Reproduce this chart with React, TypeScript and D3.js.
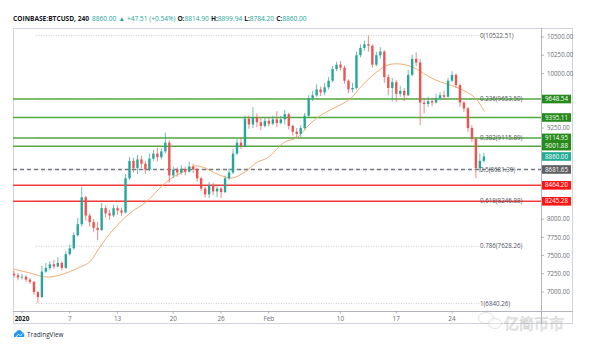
import React from 'react';
import * as d3 from 'd3';

// ---------- DATA ----------
const headerSymbol = 'COINBASE:BTCUSD, 240';
const lastPrice = 8860.0;
const changeText = '+47.51 (+0.54%)';
const ohlcLabels = ['O:', 'H:', 'L:', 'C:'];
const ohlcValues = ['8814.90', '8899.94', '8784.20', '8860.00'];

// 12h candles starting 2019-12-31 00:00 UTC; each candle opens at previous close
const candleStart = '2019-12-31T00';
const candleHours = 12;
const firstOpen = 7250;
const closes = [
  7230, 7200, 7210, 7170, 7140, 7000, 6930, 7280, 7330, 7380,
  7350, 7400, 7330, 7520, 7600, 7780, 7930, 8300, 8050, 7960,
  7880, 7850, 8150, 8080, 8050, 8150, 8120, 8090, 8560, 8800,
  8700, 8820, 8760, 8680, 8830, 8900, 8850, 8930, 9050, 8600,
  8680, 8640, 8690, 8650, 8720, 8680, 8560, 8420, 8340, 8470,
  8380, 8420, 8370, 8560, 8640, 8900, 9050, 9000, 9380, 9300,
  9400, 9330, 9280, 9350, 9310, 9370, 9320, 9370, 9440, 9280,
  9200, 9170, 9250, 9420, 9660, 9700, 9780, 9740, 9810, 9900,
  10060, 10120, 10080, 9900, 9780, 9800, 10250, 10350, 10400, 10380,
  10120, 10250, 10300, 9950, 9800, 9880, 9720, 9760, 9700, 9980,
  10200, 10150, 9600, 9580, 9620, 9600, 9660, 9700, 9680, 9900,
  9980, 9840, 9600, 9520, 9250, 9100, 8700, 8800, 8860,
];
const highs = [
  7290, 7260, 7250, 7230, 7190, 7150, 7010, 7360, 7400, 7420,
  7440, 7480, 7420, 7560, 7650, 7820, 8015, 8440, 8320, 8080,
  8000, 7960, 8220, 8190, 8130, 8200, 8190, 8160, 8620, 8850,
  8840, 8880, 8870, 8800, 8900, 8950, 8980, 8970, 9190, 9080,
  8720, 8710, 8740, 8720, 8790, 8760, 8700, 8580, 8450, 8510,
  8500, 8460, 8440, 8600, 8700, 8960, 9100, 9120, 9420, 9420,
  9540, 9450, 9390, 9400, 9390, 9420, 9480, 9420, 9500, 9460,
  9300, 9250, 9290, 9460, 9700, 9760, 9850, 9820, 9870, 9950,
  10100, 10160, 10170, 10110, 9920, 9870, 10300, 10400, 10450, 10520,
  10400, 10300, 10360, 10320, 9990, 9940, 9910, 9830, 9800, 10050,
  10260, 10290, 10200, 9660, 9680, 9670, 9720, 9740, 9760, 9940,
  10030, 10000, 9860, 9620, 9540, 9290, 9120, 8900, 8910,
];
const lows = [
  7200, 7160, 7170, 7140, 7110, 6960, 6850, 6920, 7260, 7300,
  7320, 7340, 7300, 7320, 7500, 7580, 7760, 7900, 7980, 7900,
  7820, 7710, 7840, 8020, 7990, 8030, 8060, 8040, 8080, 8540,
  8640, 8620, 8700, 8620, 8660, 8800, 8790, 8820, 8900, 8500,
  8560, 8580, 8610, 8600, 8640, 8630, 8520, 8380, 8300, 8290,
  8330, 8300, 8290, 8360, 8540, 8620, 8880, 8960, 8990, 9240,
  9250, 9260, 9220, 9260, 9270, 9290, 9260, 9300, 9300, 9230,
  9150, 9120, 9130, 9230, 9400, 9620, 9680, 9690, 9700, 9780,
  9880, 10030, 10040, 9860, 9730, 9740, 9780, 10220, 10310, 10300,
  10080, 10100, 10200, 9870, 9700, 9620, 9610, 9680, 9620, 9690,
  9960, 10100, 9290, 9450, 9540, 9550, 9590, 9630, 9640, 9670,
  9880, 9800, 9540, 9470, 9200, 9060, 8565, 8640, 8780,
];

// orange moving average
const maDates = [
  '2019-12-30T22', '2020-01-02T00', '2020-01-04T00', '2020-01-05T19', '2020-01-08T07',
  '2020-01-09T12', '2020-01-10T19', '2020-01-12T10', '2020-01-14T14', '2020-01-16T14',
  '2020-01-18T17', '2020-01-20T05', '2020-01-21T05', '2020-01-22T17', '2020-01-24T00',
  '2020-01-25T05', '2020-01-26T12', '2020-01-27T12', '2020-01-29T00', '2020-01-30T14',
  '2020-01-31T19', '2020-02-03T00', '2020-02-04T12', '2020-02-05T22', '2020-02-07T00',
  '2020-02-08T17', '2020-02-11T05', '2020-02-12T10', '2020-02-14T02', '2020-02-15T23',
  '2020-02-17T12', '2020-02-19T00', '2020-02-21T22', '2020-02-24T19', '2020-02-26T22',
  '2020-02-28T02',
];
const maValues = [
  7316, 7261, 7206, 7233, 7343, 7412, 7618, 7851, 8084, 8235,
  8469, 8593, 8647, 8730, 8702, 8634, 8579, 8565, 8647, 8784,
  8839, 9059, 9114, 9279, 9388, 9498, 9649, 9800, 9978, 10116,
  10129, 10088, 9910, 9800, 9663, 9471,
];

// Fibonacci retracement
const fibRatios = ['0', '0.236', '0.382', '0.5', '0.618', '0.786', '1'];
const fibPrices = [10522.51, 9653.5, 9115.89, 8681.39, 8246.88, 7628.26, 6840.26];
const fibStart = '2020-01-02T18';
const fibEnd = '2020-02-27T12';

// horizontal levels
const levelPrices = [9648.54, 9395.11, 9114.95, 9001.88, 8681.65, 8464.2, 8245.28];
const levelKinds = ['green', 'green', 'green', 'green', 'gray', 'red', 'red'];

// axes
const priceTicks = [10500, 10250, 10000, 9750, 9500, 9250, 9000, 8750, 8500, 8250, 8000, 7750, 7500, 7250, 7000, 6750];
const timeTickDates = ['2020-01-01', '2020-01-07', '2020-01-13', '2020-01-20', '2020-01-26', '2020-02-01', '2020-02-10', '2020-02-17', '2020-02-24'];
const timeTickLabels = ['2020', '7', '13', '20', '26', 'Feb', '10', '17', '24'];

const watermark = '亿简币市';

// ---------- LAYOUT ----------
const W = 600, H = 358;
const PL = 13, PR = 541, PT = 28, PB = 311, AXR = 573, AXB = 324;
const FONT = "'Open Sans', 'Noto Sans', sans-serif";
const UP = '#26a69a', DOWN = '#ef5350';
const GREEN = '#55a83f', RED = '#f23a3a', GRAY = '#75787f';
const BOX = { green: '#268a1c', red: '#ff1414', gray: '#5d5f63' } as Record<string, string>;

const parseH = d3.utcParse('%Y-%m-%dT%H');
const parseD = d3.utcParse('%Y-%m-%d');

export default function App() {
  const x = d3.scaleUtc()
    .domain([parseD('2020-01-01')!, parseD('2020-02-24')!])
    .range([22, 452]);
  const y = d3.scaleLinear().domain([7000, 10500]).range([292, 37]);

  const t0 = parseH(candleStart)!.getTime();
  const candles = closes.map((c, i) => ({
    t: new Date(t0 + i * candleHours * 3600 * 1000),
    o: i === 0 ? firstOpen : closes[i - 1],
    h: highs[i],
    l: lows[i],
    c,
  }));
  const bw = Math.max(1, (x(new Date(t0 + candleHours * 3600 * 1000)) - x(new Date(t0))) * 0.6);

  const maLine = d3.line<[Date, number]>()
    .x((d) => x(d[0]))
    .y((d) => y(d[1]))
    .curve(d3.curveCatmullRom.alpha(0.5));
  const maPath = maLine(maDates.map((d, i) => [parseH(d)!, maValues[i]]));

  const fx0 = x(parseH(fibStart)!);
  const fx1 = x(parseH(fibEnd)!);

  const boxH = 8.6;
  const boxedPrices = [...levelPrices, lastPrice];
  const tickVisible = (p: number) =>
    y(p) > PT + 3 && y(p) < PB - 2 && boxedPrices.every((b) => Math.abs(y(b) - y(p)) > boxH);

  return (
    <svg width={W} height={H} style={{ display: 'block', position: 'absolute', left: 0, top: 0, background: '#fff' }} fontFamily={FONT}>
      <rect x={0} y={0} width={W} height={H} fill="#fff" />
      <defs>
        <clipPath id="plot">
          <rect x={PL} y={PT} width={PR - PL} height={PB - PT} />
        </clipPath>
      </defs>

      {/* header */}
      <text x={13} y={21} fontSize={6.6} fill="#131722">
        <tspan fontWeight="bold">{headerSymbol}</tspan>
        <tspan fill={UP} dx={3}>{lastPrice.toFixed(2)}</tspan>
        <tspan fill={UP} dx={2}>▲</tspan>
        <tspan fill={UP} dx={2}>{changeText}</tspan>
        {ohlcLabels.map((lab, i) => (
          <React.Fragment key={lab}>
            <tspan dx={2} fontWeight="bold">{lab}</tspan>
            <tspan fill={UP}>{ohlcValues[i]}</tspan>
          </React.Fragment>
        ))}
      </text>

      {/* frame */}
      <rect x={PL + 0.5} y={PT + 0.5} width={AXR - PL - 1} height={AXB - PT - 1} fill="none" stroke="#d1d4dc" strokeWidth={1} />
      <line x1={PR + 0.5} x2={PR + 0.5} y1={PT} y2={AXB} stroke="#b2b5be" />
      <line x1={PL} x2={AXR} y1={PB + 0.5} y2={PB + 0.5} stroke="#b2b5be" />

      <g clipPath="url(#plot)">
        {/* fib dotted lines */}
        {fibPrices.map((p, i) => (
          <line key={'f' + i} x1={fx0} x2={fx1} y1={y(p)} y2={y(p)} stroke="#b8bbc2" strokeWidth={0.8} strokeDasharray="1,1.5" />
        ))}

        {/* horizontal levels */}
        {levelPrices.map((p, i) => {
          const k = levelKinds[i];
          const col = k === 'green' ? GREEN : k === 'red' ? RED : GRAY;
          return (
            <line key={'l' + i} x1={PL} x2={PR} y1={y(p)} y2={y(p)} stroke={col}
              strokeWidth={1.5} strokeDasharray={k === 'gray' ? '4,3' : undefined} />
          );
        })}

        {/* MA */}
        <path d={maPath || ''} fill="none" stroke="#f5a15f" strokeWidth={0.9} />

        {/* candles */}
        {candles.map((d, i) => {
          const up = d.c >= d.o;
          const col = up ? UP : DOWN;
          const cx = x(d.t);
          const top = y(Math.max(d.o, d.c));
          const bot = y(Math.min(d.o, d.c));
          return (
            <g key={'c' + i}>
              <line x1={cx} x2={cx} y1={y(d.h)} y2={y(d.l)} stroke={col} strokeWidth={0.7} />
              <rect x={cx - bw / 2} y={top} width={bw} height={Math.max(0.8, bot - top)} fill={col} />
            </g>
          );
        })}

        {/* fib labels */}
        {fibPrices.map((p, i) => (
          <text key={'ft' + i} x={480} y={y(p)} dy="0.35em" fontSize={6.2} fill="#50535e">
            {`${fibRatios[i]}(${p.toFixed(2)})`}
          </text>
        ))}
      </g>

      {/* price axis */}
      {priceTicks.filter(tickVisible).map((p) => (
        <g key={'pt' + p}>
          <line x1={PR} x2={PR + 3} y1={y(p)} y2={y(p)} stroke="#9598a1" strokeWidth={0.7} />
          <text x={547} y={y(p)} dy="0.35em" fontSize={6.2} fill="#6a6d78">{p.toFixed(2)}</text>
        </g>
      ))}

      {/* level boxes */}
      {levelPrices.map((p, i) => (
        <g key={'b' + i}>
          <rect x={PR + 1} y={y(p) - boxH / 2} width={29} height={boxH} fill={BOX[levelKinds[i]]} />
          <text x={PR + 15.5} y={y(p)} dy="0.35em" textAnchor="middle" fontSize={6.2} fill="#fff">{p.toFixed(2)}</text>
        </g>
      ))}
      <g>
        <rect x={PR + 1} y={y(lastPrice) - boxH / 2} width={29} height={boxH} fill="#22ab94" />
        <text x={PR + 15.5} y={y(lastPrice)} dy="0.35em" textAnchor="middle" fontSize={6.2} fill="#fff">{lastPrice.toFixed(2)}</text>
      </g>

      {/* time axis */}
      {timeTickDates.map((d, i) => {
        const tx = x(parseD(d)!);
        return (
          <g key={'tt' + i}>
            <line x1={tx} x2={tx} y1={PB} y2={PB + 2.5} stroke="#9598a1" strokeWidth={0.7} />
            <text x={tx} y={320.5} textAnchor="middle" fontSize={6.4}
              fill={i === 0 ? '#131722' : '#6a6d78'} fontWeight={i === 0 ? 'bold' : 'normal'}>
              {timeTickLabels[i]}
            </text>
          </g>
        );
      })}

      {/* TradingView logo */}
      <g transform="translate(13,329)">
        <path d="M1,8 L1,5.5 Q1,3.5 3,3.5 Q3.5,1 6,1 Q8.5,1 9,3.2 Q11,3.2 11.2,5.5 L11.2,8 Z" fill="#2196f3" />
        <path d="M3,8 L5.5,5 L7.5,7 L9.5,4.5" fill="none" stroke="#fff" strokeWidth={0.8} />
      </g>
      <text x={27} y={337} fontSize={6.4} fill="#2a2e39">TradingView</text>

      {/* watermark */}
      <g opacity={0.55}>
        <ellipse cx={486} cy={318} rx={7.5} ry={5.5} fill="rgba(255,255,255,0.5)" stroke="#b8b8b8" strokeWidth={0.7} />
        <ellipse cx={495} cy={323.5} rx={6.5} ry={5} fill="rgba(255,255,255,0.5)" stroke="#b8b8b8" strokeWidth={0.7} />
        <text x={504} y={329} fontSize={15} fill="rgba(255,255,255,0.4)" stroke="#a8a8a8" strokeWidth={0.6}
          fontFamily="'Noto Sans CJK SC', sans-serif">{watermark}</text>
      </g>
    </svg>
  );
}
